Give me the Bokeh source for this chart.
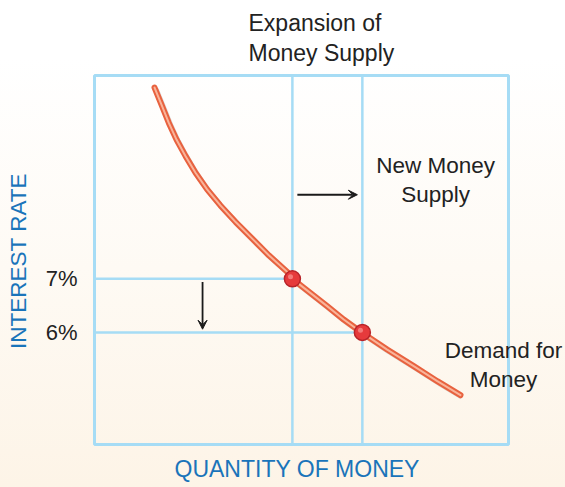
from bokeh.plotting import figure
from bokeh.models import Range1d, FixedTicker, Label, Arrow, VeeHead, ColumnDataSource, Title
from bokeh.transform import dodge
from bokeh.embed import file_html
from bokeh.resources import INLINE

# ---- data ----
quantity = [14.5, 16.35, 17.95, 19.8, 22.0, 24.4, 27.2, 30.4, 34.1, 38.1, 42.1, 46.55, 47.8,
            56.2, 60.2, 64.7, 70.7, 77.1, 82.8, 88.4]
rate = [10.57, 10.22, 9.91, 9.60, 9.29, 8.98, 8.67, 8.37, 8.06, 7.75, 7.44, 7.13, 7.00,
        6.49, 6.24, 5.99, 5.68, 5.37, 5.09, 4.83]
eq_quantity = [47.8, 64.7]          # old and new money supply
eq_rate = [7.0, 6.0]                # interest rate at each equilibrium
rate_ticks = [6, 7]
rate_tick_labels = {6: "6%", 7: "7%"}

# extent of the chart's box
q_min, q_max = 0, 100
rate_min, rate_max = 3.907, 10.796

FONT = "Liberation Sans"
BLUE_LINE = "#a6dcf5"
TEXT = "#222222"
AXIS_BLUE = "#1a74ba"

p = figure(width=565, height=487, output_backend="svg", toolbar_location=None,
           x_range=Range1d(-0.725, 113.77), y_range=Range1d(3.833, 10.833),
           min_border_left=91, min_border_right=0, min_border_top=70, min_border_bottom=39)
p.styles = {"background": "linear-gradient(to bottom, #ffffff 0%, #ffffff 12%, #fefaf4 55%, #fdf4e7 100%)"}
p.background_fill_alpha = 0
p.border_fill_alpha = 0
p.outline_line_color = None
p.grid.visible = False

# two-line heading above the plot
p.add_layout(Title(text="Expansion of\nMoney Supply", align="left", offset=157, text_font=FONT,
                   text_font_size="23px", text_font_style="normal", text_color=TEXT,
                   text_line_height=1.17, standoff=15), "above")

# y axis
p.yaxis.ticker = FixedTicker(ticks=rate_ticks)
p.yaxis.major_label_overrides = rate_tick_labels
p.yaxis.axis_line_color = None
p.yaxis.major_tick_line_color = None
p.yaxis.minor_tick_line_color = None
p.yaxis.major_label_standoff = 8
p.yaxis.major_label_text_font = FONT
p.yaxis.major_label_text_font_size = "22px"
p.yaxis.major_label_text_color = TEXT
p.yaxis.axis_label = "INTEREST RATE"
p.yaxis.axis_label_text_font = FONT
p.yaxis.axis_label_text_font_size = "22.5px"
p.yaxis.axis_label_text_font_style = "normal"
p.yaxis.axis_label_text_color = AXIS_BLUE
p.yaxis.axis_label_standoff = 12

# x axis: no ticks; its title is placed under the box
p.xaxis.visible = False
p.add_layout(Title(text="QUANTITY OF MONEY", align="left", offset=83, text_font=FONT,
                   text_font_size="23px", text_font_style="normal", text_color=AXIS_BLUE,
                   standoff=10), "below")

# box
p.quad(left=[q_min], right=[q_max], bottom=[rate_min], top=[rate_max],
       fill_color=None, line_color=BLUE_LINE, line_width=3)
# money supply lines (vertical)
p.segment(x0=eq_quantity, y0=[rate_min] * 2, x1=eq_quantity, y1=[rate_max] * 2,
          line_color=BLUE_LINE, line_width=2.5)
# interest rate guide lines (horizontal, from axis to equilibrium)
p.segment(x0=[q_min] * 2, y0=eq_rate, x1=eq_quantity, y1=eq_rate, line_color=BLUE_LINE, line_width=2.5)

# demand curve
src = ColumnDataSource(dict(q=quantity, r=rate))
p.line(x=dodge("q", 0.4), y=dodge("r", -0.035), source=src, line_color="#9a9a9a",
       line_alpha=0.35, line_width=5.5, line_join="round")
p.line(x="q", y="r", source=src, line_color="#e8623f", line_width=6, line_cap="round", line_join="round")
p.line(x="q", y="r", source=src, line_color="#f9b49a", line_width=2, line_cap="round", line_join="round")

# equilibrium points
p.scatter(x=eq_quantity, y=eq_rate, size=16, fill_color="#e63a3c", line_color="#b8242a", line_width=1.5)
p.scatter(x=dodge("q", -0.45), y=dodge("r", 0.04), size=5, fill_color="#f68c8a", line_color=None,
          fill_alpha=0.8, source=ColumnDataSource(dict(q=eq_quantity, r=eq_rate)))

# arrows
head = dict(size=9, fill_color="#1a1a1a", line_color="#1a1a1a")
p.add_layout(Arrow(end=VeeHead(**head), x_start=26.1, y_start=6.94, x_end=26.1, y_end=6.06,
                   line_color="#1a1a1a", line_width=1.8))
p.add_layout(Arrow(end=VeeHead(**head), x_start=49.0, y_start=8.57, x_end=63.5, y_end=8.57,
                   line_color="#1a1a1a", line_width=1.8))

# text labels
lab = dict(text_font=FONT, text_font_size="22.5px", text_color=TEXT, text_align="center",
           text_baseline="top", text_line_height=1.15)
p.add_layout(Label(x=82.4, y=9.35, text="New Money\nSupply", **lab))
p.add_layout(Label(x=98.8, y=5.89, text="Demand for\nMoney", **lab))

open("out.html", "w").write(file_html(p, INLINE))
